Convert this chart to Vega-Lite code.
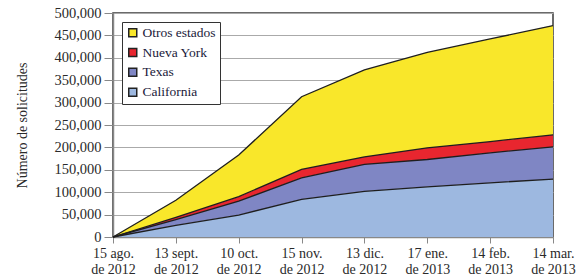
{
  "$schema": "https://vega.github.io/schema/vega-lite/v6.json",
  "width": 440,
  "height": 224,
  "autosize": {"type": "none"},
  "padding": {"left": 113, "top": 13, "right": 32, "bottom": 42},
  "background": "white",
  "config": {
    "font": "Liberation Serif",
    "view": {"stroke": "#3a3a3a", "strokeWidth": 1.5}
  },
  "data": {
    "values": [
      {"fecha": "15 ago.|de 2012", "estado": "California", "ord": 1, "valor": 0},
      {"fecha": "15 ago.|de 2012", "estado": "Texas", "ord": 2, "valor": 0},
      {"fecha": "15 ago.|de 2012", "estado": "Nueva York", "ord": 3, "valor": 0},
      {"fecha": "15 ago.|de 2012", "estado": "Otros estados", "ord": 4, "valor": 0},
      {"fecha": "13 sept.|de 2012", "estado": "California", "ord": 1, "valor": 26000},
      {"fecha": "13 sept.|de 2012", "estado": "Texas", "ord": 2, "valor": 13000},
      {"fecha": "13 sept.|de 2012", "estado": "Nueva York", "ord": 3, "valor": 5000},
      {"fecha": "13 sept.|de 2012", "estado": "Otros estados", "ord": 4, "valor": 38000},
      {"fecha": "10 oct.|de 2012", "estado": "California", "ord": 1, "valor": 49000},
      {"fecha": "10 oct.|de 2012", "estado": "Texas", "ord": 2, "valor": 31000},
      {"fecha": "10 oct.|de 2012", "estado": "Nueva York", "ord": 3, "valor": 10000},
      {"fecha": "10 oct.|de 2012", "estado": "Otros estados", "ord": 4, "valor": 93000},
      {"fecha": "15 nov.|de 2012", "estado": "California", "ord": 1, "valor": 84000},
      {"fecha": "15 nov.|de 2012", "estado": "Texas", "ord": 2, "valor": 48000},
      {"fecha": "15 nov.|de 2012", "estado": "Nueva York", "ord": 3, "valor": 19000},
      {"fecha": "15 nov.|de 2012", "estado": "Otros estados", "ord": 4, "valor": 162000},
      {"fecha": "13 dic.|de 2012", "estado": "California", "ord": 1, "valor": 102000},
      {"fecha": "13 dic.|de 2012", "estado": "Texas", "ord": 2, "valor": 60000},
      {"fecha": "13 dic.|de 2012", "estado": "Nueva York", "ord": 3, "valor": 17000},
      {"fecha": "13 dic.|de 2012", "estado": "Otros estados", "ord": 4, "valor": 194000},
      {"fecha": "17 ene.|de 2013", "estado": "California", "ord": 1, "valor": 112000},
      {"fecha": "17 ene.|de 2013", "estado": "Texas", "ord": 2, "valor": 61000},
      {"fecha": "17 ene.|de 2013", "estado": "Nueva York", "ord": 3, "valor": 26000},
      {"fecha": "17 ene.|de 2013", "estado": "Otros estados", "ord": 4, "valor": 213000},
      {"fecha": "14 feb.|de 2013", "estado": "California", "ord": 1, "valor": 121000},
      {"fecha": "14 feb.|de 2013", "estado": "Texas", "ord": 2, "valor": 67000},
      {"fecha": "14 feb.|de 2013", "estado": "Nueva York", "ord": 3, "valor": 25000},
      {"fecha": "14 feb.|de 2013", "estado": "Otros estados", "ord": 4, "valor": 229000},
      {"fecha": "14 mar.|de 2013", "estado": "California", "ord": 1, "valor": 129000},
      {"fecha": "14 mar.|de 2013", "estado": "Texas", "ord": 2, "valor": 72000},
      {"fecha": "14 mar.|de 2013", "estado": "Nueva York", "ord": 3, "valor": 27000},
      {"fecha": "14 mar.|de 2013", "estado": "Otros estados", "ord": 4, "valor": 244000}
    ]
  },
  "encoding": {
    "x": {
      "field": "fecha",
      "type": "ordinal",
      "sort": null,
      "scale": {"type": "point", "padding": 0},
      "axis": {
        "title": null,
        "labelExpr": "split(datum.value, '|')",
        "labelAngle": 0,
        "labelFont": "Liberation Serif",
        "labelFontSize": 14,
        "labelColor": "#2a2a2a",
        "labelLineHeight": 16,
        "labelPadding": 3,
        "tickSize": 6,
        "tickColor": "#888",
        "domainColor": "#888",
        "domainWidth": 1.5,
        "grid": false
      }
    },
    "y": {
      "field": "valor",
      "type": "quantitative",
      "stack": "zero",
      "scale": {"domain": [0, 500000], "nice": false},
      "axis": {
        "title": "Número de solicitudes",
        "titleFont": "Liberation Serif",
        "titleFontSize": 14,
        "titleFontWeight": "normal",
        "titleColor": "#2a2a2a",
        "titlePadding": 24,
        "format": ",d",
        "values": [0, 50000, 100000, 150000, 200000, 250000, 300000, 350000, 400000, 450000, 500000],
        "labelFont": "Liberation Serif",
        "labelFontSize": 14.5,
        "labelColor": "#2a2a2a",
        "labelPadding": 3,
        "tickSize": 9,
        "tickColor": "#888",
        "domainColor": "#888",
        "domainWidth": 1.5,
        "gridColor": "#aaaaaa",
        "gridWidth": 1
      }
    },
    "order": {"field": "ord", "type": "quantitative"}
  },
  "layer": [
    {
      "mark": {"type": "area", "opacity": 1},
      "encoding": {
        "color": {
          "field": "estado",
          "type": "nominal",
          "scale": {
            "domain": ["Otros estados", "Nueva York", "Texas", "California"],
            "range": ["#f9e72a", "#e8262f", "#7f86c4", "#9db8e0"]
          },
          "legend": {
            "title": null,
            "orient": "none",
            "legendX": 9,
            "legendY": 9,
            "direction": "vertical",
            "symbolType": "square",
            "symbolSize": 64,
            "symbolStrokeColor": "#222",
            "symbolStrokeWidth": 1.5,
            "labelFont": "Liberation Serif",
            "labelFontSize": 13.5,
            "labelColor": "#1a1a3a",
            "labelOffset": 3,
            "rowPadding": 4.8,
            "padding": 4,
            "strokeColor": "#333",
            "fillColor": "white",
            "encode": {
              "legend": {"update": {"strokeWidth": {"value": 2}}},
              "symbols": {"update": {"stroke": {"value": "#222"}, "strokeWidth": {"value": 1.5}}}
            }
          }
        }
      }
    },
    {
      "mark": {"type": "line", "color": "#1e1e1e", "strokeWidth": 1.3},
      "encoding": {
        "detail": {"field": "estado", "type": "nominal"}
      }
    }
  ]
}
